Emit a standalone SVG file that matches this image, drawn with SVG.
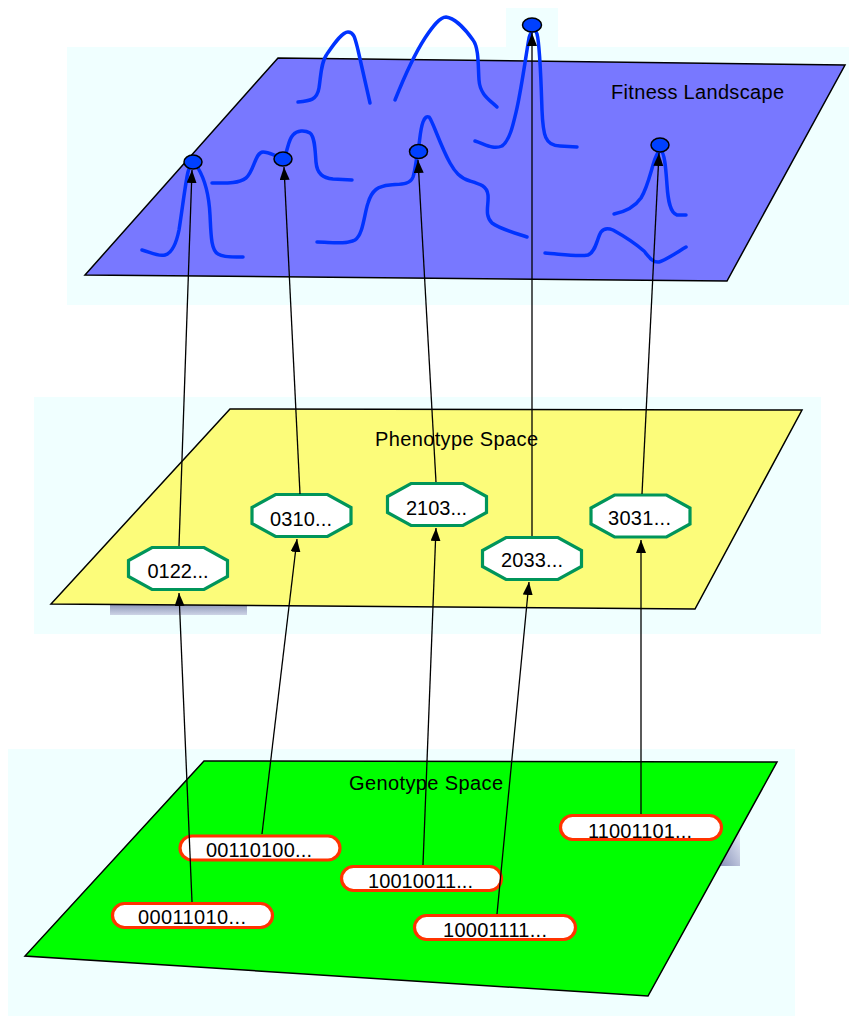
<svg xmlns="http://www.w3.org/2000/svg" width="849" height="1016" viewBox="0 0 849 1016">
<style>
.bg{fill:#F0FFFF}
.plane{stroke:#000;stroke-width:1.5;stroke-linejoin:miter}
.curve{fill:none;stroke:#0033FF;stroke-width:3.5;stroke-linecap:round;stroke-linejoin:round}
.dot{fill:#0040FF;stroke:#000;stroke-width:1.5}
.oct{fill:#fff;stroke:#00955A;stroke-width:3.2;stroke-linejoin:miter}
.geno{fill:#fff;stroke:#FF3300;stroke-width:3.2}
.title{font-family:"Liberation Sans",Arial,sans-serif;font-size:20px;fill:#000}
.lbl{font-family:"Liberation Sans",Arial,sans-serif;font-size:20px;fill:#000;text-anchor:middle}
.conn{stroke:#000;stroke-width:1.3;fill:none;marker-end:url(#arr)}
</style>
<defs>
<marker id="arr" markerUnits="userSpaceOnUse" markerWidth="14" markerHeight="12" refX="13" refY="5" orient="auto">
<path d="M0,0 L13,5 L0,10 Z" fill="#000"/>
</marker>
<polygon id="octShape" points="-26,-21 26,-21 49.5,-8 49.5,8 26,21 -26,21 -49.5,8 -49.5,-8"/>
<linearGradient id="sh1" x1="0" y1="0" x2="0" y2="1">
<stop offset="0" stop-color="#8C95B6"/>
<stop offset="1" stop-color="#CDD4E6"/>
</linearGradient>
<linearGradient id="sh2" x1="0" y1="1" x2="1" y2="0">
<stop offset="0" stop-color="#8A93BA"/>
<stop offset="1" stop-color="#E8EEF8"/>
</linearGradient>
</defs>

<g id="layer-fitness">
<rect class="bg" x="67" y="47" width="782" height="258"/>
<rect class="bg" x="506" y="8" width="52" height="40"/>
<polygon class="plane" fill="#7878FF" points="278,58 845,65 727,281 85,275"/>
<text class="title" x="611" y="99" textLength="173" lengthAdjust="spacing">Fitness Landscape</text>
<g id="landscape-curves">
<path class="curve" d="M298,102 C310,101 317,100 319,88 C321,75 321,62 327,54 C334,44 342,32 348,32 C354,32 355,38 358,50 L370,103"/>
<path class="curve" d="M395,100 C403,80 412,58 425,38 C433,26 440,17 446,17 C455,18 466,30 473,40 C479,48 478,66 479,80 C480,95 490,100 497,107"/>
<path class="curve" d="M475,141 C485,144 493,150 502,146 C510,140 513,125 517,108 C522,85 526,55 529,38 C531,30 535,28 537,34 C540,45 541,80 542,110 C543,135 545,146 560,146 L577,147"/>
<path class="curve" d="M142,250 C150,252 158,257 165,255 C172,253 176,245 179,230 C182,212 185,185 188,172 C190,163 194,161 198,168 C204,178 209,195 210,215 C211,235 211,250 218,254 C225,258 235,257 243,257"/>
<path class="curve" d="M212,183 C225,183 238,184 246,178 C254,172 255,152 263,152 C270,152 278,158 284,158 C288,150 288,140 293,135 C297,130 305,130 310,133 C315,137 315,150 316,162 C317,174 323,178 333,179 L352,180"/>
<path class="curve" d="M317,242 C330,242 345,245 355,240 C363,235 364,215 368,203 C372,190 378,186 390,185 C400,184 410,185 413,177 C416,168 416,158 418,152 C420,140 420,130 423,122 C425,117 427,116 429,117 C432,119 440,145 450,163 C455,172 460,178 470,181 C480,184 487,186 488,195 C489,205 484,215 492,223 C500,229 515,233 527,237"/>
<path class="curve" d="M614,214 C624,212 634,208 641,198 C647,188 650,175 653,165 C655,158 658,150 661,151 C665,153 666,172 667,185 C668,200 670,213 677,215 L686,215"/>
<path class="curve" d="M545,253 C560,254 578,257 588,255 C596,252 597,238 601,232 C604,228 608,228 613,230 C622,235 636,244 644,251 C649,257 653,263 659,262 C666,260 676,253 686,247"/>
</g>
</g>

<g id="layer-phenotype">
<rect class="bg" x="34" y="397" width="787" height="237"/>
<rect x="110" y="604" width="137" height="11" fill="url(#sh1)"/>
<polygon class="plane" fill="#FCFC7A" points="230,409 802,410 695,609 51,604"/>
<text class="title" x="375" y="446" textLength="163" lengthAdjust="spacing">Phenotype Space</text>
</g>

<g id="layer-genotype">
<rect class="bg" x="8" y="749" width="787" height="267"/>
<polygon points="740,828 740,866 720,866" fill="url(#sh2)"/>
<polygon class="plane" fill="#00FF00" points="204,761 777,762 648,996 25,956"/>
<text class="title" x="349" y="790" textLength="154" lengthAdjust="spacing">Genotype Space</text>
</g>

<g id="fitness-points">
<ellipse id="f1" class="dot" cx="193" cy="162" rx="9" ry="7"/>
<ellipse id="f2" class="dot" cx="283" cy="159" rx="9" ry="7"/>
<ellipse id="f3" class="dot" cx="418.5" cy="151.5" rx="9" ry="7"/>
<ellipse id="f4" class="dot" cx="532" cy="25" rx="9.5" ry="7"/>
<ellipse id="f5" class="dot" cx="660" cy="145" rx="9" ry="7"/>
</g>

<g id="p0122">
<use href="#octShape" class="oct" x="178" y="568.5"/>
<text class="lbl" x="178" y="578" textLength="61" lengthAdjust="spacing">0122...</text>
</g>
<g id="p0310">
<use href="#octShape" class="oct" x="301.5" y="515.5"/>
<text class="lbl" x="301" y="526" textLength="62" lengthAdjust="spacing">0310...</text>
</g>
<g id="p2103">
<use href="#octShape" class="oct" x="437" y="504.5"/>
<text class="lbl" x="436.5" y="515" textLength="61" lengthAdjust="spacing">2103...</text>
</g>
<g id="p2033">
<use href="#octShape" class="oct" x="532" y="558.5"/>
<text class="lbl" x="532" y="567" textLength="62" lengthAdjust="spacing">2033...</text>
</g>
<g id="p3031">
<use href="#octShape" class="oct" x="640.5" y="516"/>
<text class="lbl" x="639.5" y="525" textLength="63" lengthAdjust="spacing">3031...</text>
</g>

<g id="g00110100">
<rect class="geno" x="180" y="836" width="160" height="24" rx="12"/>
<text class="lbl" x="259" y="857" textLength="106" lengthAdjust="spacing">00110100...</text>
</g>
<g id="g00011010">
<rect class="geno" x="112.5" y="903.5" width="160" height="24" rx="12"/>
<text class="lbl" x="192" y="924" textLength="108" lengthAdjust="spacing">00011010...</text>
</g>
<g id="g10010011">
<rect class="geno" x="341.5" y="866.5" width="160" height="24" rx="12"/>
<text class="lbl" x="420.5" y="888" textLength="105" lengthAdjust="spacing">10010011...</text>
</g>
<g id="g10001111">
<rect class="geno" x="414.5" y="915.5" width="161" height="24" rx="12"/>
<text class="lbl" x="495" y="937" textLength="104" lengthAdjust="spacing">10001111...</text>
</g>
<g id="g11001101">
<rect class="geno" x="560.5" y="815.5" width="161" height="24" rx="12"/>
<text class="lbl" x="640" y="838" textLength="104" lengthAdjust="spacing">11001101...</text>
</g>

<g id="connectors">
<line class="conn" x1="192" y1="902" x2="179" y2="593"/>
<line class="conn" x1="262" y1="834" x2="297" y2="539"/>
<line class="conn" x1="423" y1="865" x2="436" y2="528"/>
<line class="conn" x1="497" y1="914" x2="529" y2="582"/>
<line class="conn" x1="641" y1="814" x2="641" y2="540"/>
<line class="conn" x1="179" y1="546" x2="192" y2="170"/>
<line class="conn" x1="300" y1="494" x2="284" y2="167"/>
<line class="conn" x1="436" y1="482" x2="418" y2="160"/>
<line class="conn" x1="532" y1="536" x2="532" y2="33"/>
<line class="conn" x1="642" y1="494" x2="659" y2="153"/>
</g>
</svg>
